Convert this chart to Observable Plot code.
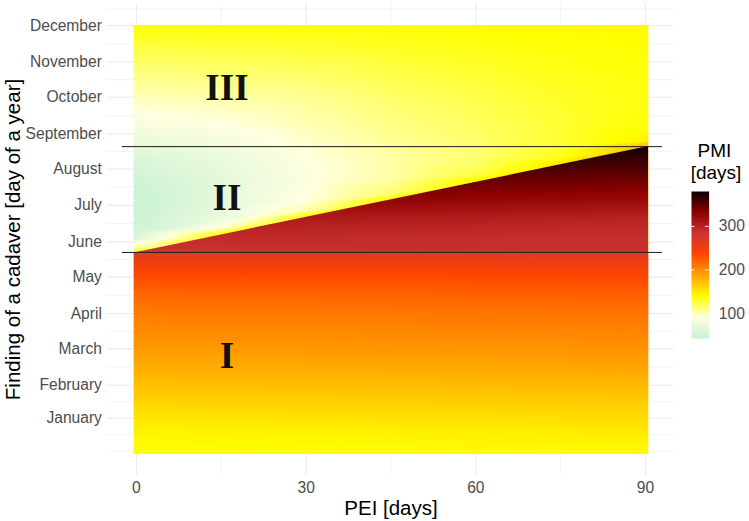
<!DOCTYPE html>
<html>
<head>
<meta charset="utf-8">
<script src="https://cdn.jsdelivr.net/npm/d3@7"></script>
<script src="https://cdn.jsdelivr.net/npm/@observablehq/plot@0.6"></script>
<style>
  html, body { margin: 0; padding: 0; background: #fff; }
  #wrap { position: relative; width: 749px; height: 521px; overflow: hidden;
          font-family: "Liberation Sans", Arial, sans-serif; }
  .lg-title { position: absolute; font-size: 19px; line-height: 17px; height: 17px; color: #000; white-space: nowrap; }
  #legend { position: absolute; left: 690.7px; top: 181px; }
</style>
</head>
<body>
<div id="wrap"></div>
<script>
// ---------- data ----------
const monthNames = ["January","February","March","April","May","June","July","August","September","October","November","December"];
const monthEndDays = [31, 59, 90, 120, 151, 181, 212, 243, 273, 304, 334, 365];
const minorDays = [3, 17, 45, 74.5, 105, 135.5, 166, 196.5, 227.5, 258, 288.5, 319, 349.5, 379];
const peiTicks = [0, 30, 60, 90];
const peiMinor = [15, 45, 75];

const pmiStops  = [43, 91, 139, 187, 236, 284, 332, 380];
const pmiColors = ["#c8f2d4", "#ffffe0", "#ffff00", "#ffa500", "#ff4500", "#cd3333", "#8b0000", "#0a0000"];
const legendTicks = [100, 200, 300];

// region I (finding before the first boundary); edge columns sit on the raster border
const springPEI = [-0.5, 45, 90.5];
const springDays = [0.5, 17, 31, 46, 59, 75, 90, 105, 120, 135, 151, 161, 169, 172];
const springPMI = [
  [138,139,141],[143,145,148],[152,154,157],[163,165,167],[172,174,176],[183,185,187],
  [192,194,196],[200,202,204],[208,210,212],[218,220,222],[232,233,235],[247,248,250],
  [260,260,262],[264,264,265]
];

// regions II/III above the diagonal
const lightPEI = [-0.5, 15, 30, 45, 60, 75, 90.5];
const lightDays = [
  [172, 173, 177, 183, 190, 205, 220, 235, 250, 262, 280, 300, 320, 345, 365.5],
  [172, 185, 188, 192, 200, 215, 235, 250, 262, 280, 300, 320, 345, 365.5],
  [172, 200, 203, 207, 215, 235, 250, 262, 280, 300, 320, 345, 365.5],
  [172, 215, 218, 222, 235, 250, 262, 280, 300, 320, 345, 365.5],
  [172, 230, 233, 238, 250, 262, 280, 300, 320, 345, 365.5],
  [172, 245, 248, 253, 262, 280, 300, 320, 345, 365.5],
  [172, 260, 263.5, 267, 280, 300, 320, 345, 365.5]
];
const lightPMI = [
  [135, 132, 100, 65, 50, 45, 45, 50, 58, 70, 84, 96, 108, 124, 139],
  [140, 140, 136, 100, 75, 68, 68, 72, 80, 90, 101, 112, 126, 139],
  [140, 140, 136, 105, 92, 88, 90, 94, 100, 106, 115, 128, 139],
  [142, 142, 138, 115, 103, 103, 106, 110, 115, 122, 131, 139],
  [145, 145, 142, 124, 115, 115, 118, 122, 127, 134, 140],
  [152, 152, 150, 133, 128, 128, 130, 133, 137, 140],
  [175, 175, 170, 145, 138, 136, 137, 139, 141]
];

// region II below the diagonal (dark wedge)
const darkPEI = [-0.5, 15, 30, 45, 60, 75, 90.5];
const darkDays = [172, 185, 200, 215, 230, 245, 262.5];
const darkPMI = [
  [284, 285, 286, 287, 288, 288, 288],
  [292, 292, 292, 291, 290, 289, 288],
  [306, 306, 305, 304, 303, 300, 298],
  [326, 326, 326, 325, 323, 321, 319],
  [345, 345, 345, 344, 342, 340, 338],
  [360, 360, 360, 360, 358, 357, 356],
  [380, 380, 380, 380, 380, 379, 378]
];

const boundaryDays = [172, 262];
const peiExtent = [-0.5, 90.5];
const dayExtent = [0.5, 365.5];

const regionLabels = ["I", "II", "III"];
const regionLabelPEI = [16, 16, 16];
const regionLabelDay = [84, 218, 312];

const xTitle = "PEI [days]";
const yTitle = "Finding of a cadaver [day of a year]";
const legendTitle = ["PMI", "[days]"];

// ---------- build sample tables ----------
const springSamples = [];
springDays.forEach((d, i) => springPEI.forEach((p, j) => springSamples.push({pei: p, day: d, pmi: springPMI[i][j]})));
const lightSamples = [];
lightPEI.forEach((p, j) => lightDays[j].forEach((d, i) => lightSamples.push({pei: p, day: d, pmi: lightPMI[j][i]})));
const darkSamples = [];
darkDays.forEach((d, i) => darkPEI.forEach((p, j) => darkSamples.push({pei: p, day: d, pmi: darkPMI[i][j]})));

const colorOpts = {type: "linear", domain: pmiStops, range: pmiColors, interpolate: "rgb"};
const FONT = "Liberation Sans, Arial, sans-serif";

const chart = Plot.plot({
  width: 749, height: 521,
  marginLeft: 107.4, marginRight: 75.4, marginTop: 3, marginBottom: 46,
  x: {domain: [-5.05, 95.05]},
  y: {domain: [-17.75, 383.75]},
  color: colorOpts,
  style: {fontFamily: FONT, background: "white"},
  marks: [
    Plot.ruleY(minorDays, {stroke: "#ebebeb", strokeWidth: 0.6}),
    Plot.ruleY(monthEndDays, {stroke: "#ebebeb", strokeWidth: 1.1}),
    Plot.ruleX(peiMinor, {stroke: "#ebebeb", strokeWidth: 0.6}),
    Plot.ruleX(peiTicks, {stroke: "#ebebeb", strokeWidth: 1.1}),
    Plot.raster(springSamples, {x: "pei", y: "day", fill: "pmi", interpolate: "barycentric",
      x1: peiExtent[0], x2: peiExtent[1], y1: dayExtent[0], y2: boundaryDays[0]}),
    Plot.raster(lightSamples, {x: "pei", y: "day", fill: "pmi", interpolate: "barycentric",
      x1: peiExtent[0], x2: peiExtent[1], y1: boundaryDays[0], y2: dayExtent[1]}),
    Plot.raster(darkSamples, {x: "pei", y: "day", fill: "pmi", interpolate: "barycentric",
      x1: peiExtent[0], x2: peiExtent[1], y1: boundaryDays[0], y2: boundaryDays[1] + 0.5}),
    Plot.ruleY(boundaryDays, {x1: -2.5, x2: 93, stroke: "#1a1a1a", strokeWidth: 1}),
    Plot.text(regionLabels, {x: (d, i) => regionLabelPEI[i], y: (d, i) => regionLabelDay[i], text: d => d,
      fontFamily: "Liberation Serif, Times New Roman, serif", fontWeight: "bold", fontSize: 37, fill: "#111"}),
    Plot.axisX({ticks: peiTicks, tickSize: 0, tickPadding: 6.5, fontSize: 15.6, fill: "#4d4d4d", label: null}),
    Plot.axisY({ticks: monthEndDays, tickFormat: d => monthNames[monthEndDays.indexOf(d)],
      tickSize: 0, tickPadding: 6, fontSize: 15.6, fill: "#4d4d4d", label: null}),
    Plot.text([yTitle], {frameAnchor: "left", textAnchor: "middle", dx: -94.4, rotate: -90, fontSize: 20.5, fill: "#000"}),
    Plot.text([xTitle], {frameAnchor: "bottom", textAnchor: "middle", dy: 39, fontSize: 20.5, fill: "#000"})
  ]
});

// clip the dark wedge to the area below the diagonal, using the chart's own scales
(function clipDark() {
  const xs = chart.scale("x"), ys = chart.scale("y");
  const corners = [[peiExtent[0], boundaryDays[0]], [peiExtent[1], boundaryDays[0]], [peiExtent[1], boundaryDays[1] + 0.5]];
  const ns = "http://www.w3.org/2000/svg";
  const defs = document.createElementNS(ns, "defs");
  const cp = document.createElementNS(ns, "clipPath");
  cp.setAttribute("id", "dark-wedge-clip");
  const poly = document.createElementNS(ns, "polygon");
  poly.setAttribute("points", corners.map(([p, d]) => `${xs.apply(p)},${ys.apply(d)}`).join(" "));
  cp.appendChild(poly); defs.appendChild(cp);
  chart.insertBefore(defs, chart.firstChild);
  const rasters = chart.querySelectorAll('g[aria-label="raster"]');
  if (rasters.length >= 3) rasters[2].setAttribute("clip-path", "url(#dark-wedge-clip)");
})();

const wrap = document.getElementById("wrap");
wrap.appendChild(chart);

// ---------- colour bar legend ----------
const legend = Plot.plot({
  width: 67.6, height: 167,
  marginLeft: 0, marginRight: 50, marginTop: 10, marginBottom: 10,
  x: {domain: [0, 1], axis: null},
  y: {domain: [pmiStops[0], pmiStops[pmiStops.length - 1]]},
  color: colorOpts,
  style: {fontFamily: FONT, background: "transparent", overflow: "visible"},
  marks: [
    Plot.raster({fill: (x, y) => y, x1: 0, x2: 1, y1: pmiStops[0], y2: pmiStops[pmiStops.length - 1]}),
    Plot.ruleY(legendTicks, {x1: 0, x2: 0.2, stroke: "white", strokeWidth: 1}),
    Plot.ruleY(legendTicks, {x1: 0.8, x2: 1, stroke: "white", strokeWidth: 1}),
    Plot.axisY({anchor: "right", ticks: legendTicks, tickSize: 0, tickPadding: 9.7, fontSize: 15.6, fill: "#4d4d4d", label: null})
  ]
});
legend.id = "legend";
wrap.appendChild(legend);

const t1 = document.createElement("div");
t1.className = "lg-title"; t1.textContent = legendTitle[0];
t1.style.left = "697.5px"; t1.style.top = "142px";
const t2 = document.createElement("div");
t2.className = "lg-title"; t2.textContent = legendTitle[1];
t2.style.left = "690.7px"; t2.style.top = "163.5px";
wrap.appendChild(t1); wrap.appendChild(t2);
</script>
</body>
</html>
